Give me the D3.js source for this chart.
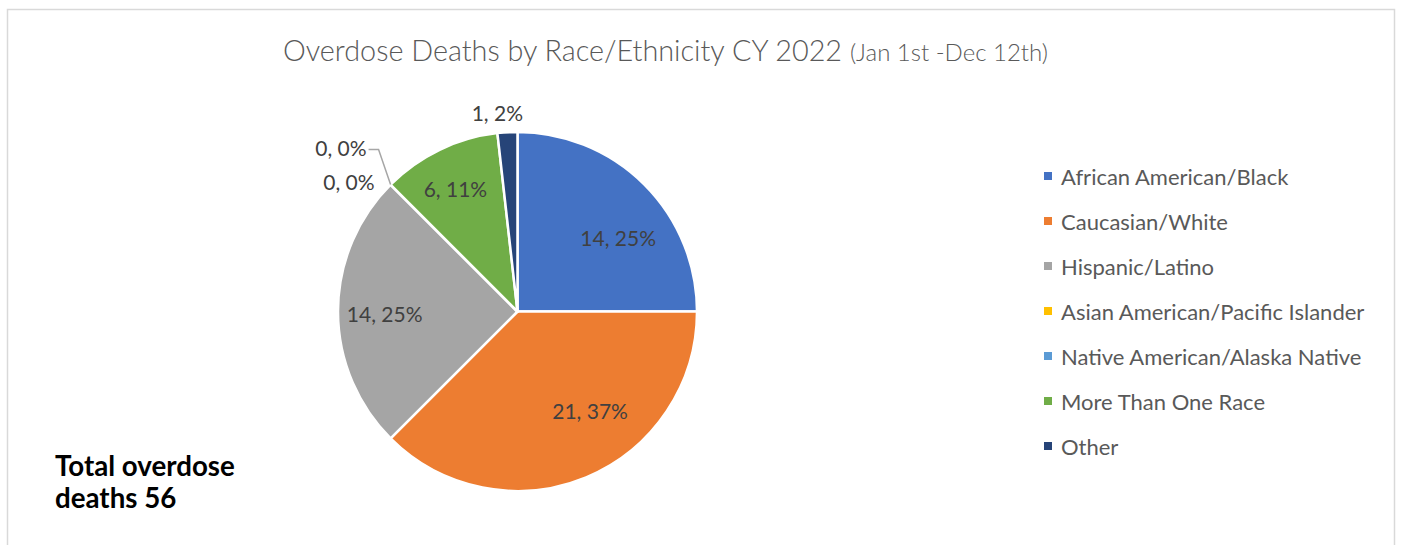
<!DOCTYPE html>
<html>
<head>
<meta charset="utf-8">
<script src="https://cdn.jsdelivr.net/npm/d3@7"></script>
<style>
  body { margin: 0; background: #fff; }
  svg { display: block; font-family: Lato, "Open Sans", sans-serif; }
</style>
</head>
<body>
<div id="chart"></div>
<script>
// Data
const categories = ["African American/Black", "Caucasian/White", "Hispanic/Latino",
    "Asian American/Pacific Islander", "Native American/Alaska Native",
    "More Than One Race", "Other"];
const deaths = [14, 21, 14, 0, 0, 6, 1];
const percents = [25, 37, 25, 0, 0, 11, 2];
const colors = ["#4472C4", "#ED7D31", "#A5A5A5", "#FFC000", "#5B9BD5", "#70AD47", "#264478"];

const width = 1401;
const height = 545;
const cx = 517.5, cy = 311.5, radius = 179.5;

const svg = d3.select("#chart").append("svg")
    .attr("width", width)
    .attr("height", height);

// chart frame
svg.append("rect")
    .attr("x", 7.5).attr("y", 9.5)
    .attr("width", 1387).attr("height", 560)
    .attr("fill", "#fff")
    .attr("stroke", "#d9d9d9")
    .attr("stroke-width", 1.5);

// Title
const title = svg.append("text")
    .attr("x", 283)
    .attr("y", 61)
    .attr("fill", "#595959")
    .style("font-size", "28.8px")
    .style("font-weight", 300);
title.append("tspan").text("Overdose Deaths by Race/Ethnicity CY 2022 ");
title.append("tspan").style("font-size", "24px").text("(Jan 1st -Dec 12th)");

// Pie
const pie = d3.pie().sort(null).value(d => d);
const arcs = pie(deaths);
const arc = d3.arc().innerRadius(0).outerRadius(radius);

const g = svg.append("g").attr("transform", `translate(${cx},${cy})`);

g.selectAll("path.slice")
    .data(arcs)
    .enter().append("path")
    .attr("class", "slice")
    .attr("d", arc)
    .attr("fill", (d, i) => colors[i])
    .attr("stroke", "#fff")
    .attr("stroke-width", 2.5)
    .attr("stroke-linejoin", "round");

// Data labels: radius ratio for the centroid, plus a small nudge
const labelPos = [
    { r: 0.62, nx: 22, ny: 5, anchor: "middle" },
    { r: 0.62, nx: 30, ny: -4, anchor: "middle" },
    { r: 0.74, nx: 0, ny: 1.5, anchor: "middle" },
    { r: 1.0, nx: -16, ny: -3, anchor: "end" },     // 0, 0% beside the edge
    { r: 1.0, nx: -24, ny: -37, anchor: "end" },    // 0, 0% with leader line
    { r: 0.72, nx: -6, ny: -7, anchor: "middle" },
    { r: 1.11, nx: -9, ny: 0, anchor: "middle" }
];

arcs.forEach((d, i) => {
    const o = labelPos[i];
    const a = d3.arc().innerRadius(radius * o.r).outerRadius(radius * o.r);
    const [x, y] = a.centroid(d);
    g.append("text")
        .attr("x", x + o.nx)
        .attr("y", y + o.ny)
        .attr("text-anchor", o.anchor)
        .attr("dominant-baseline", "central")
        .attr("fill", "#404040")
        .style("font-size", "21px")
        .text(`${deaths[i]}, ${percents[i]}%`);
});

// leader line for the 5th label
const edge = arcs[4].startAngle;
const ex = radius * Math.sin(edge), ey = -radius * Math.cos(edge);
g.append("path")
    .attr("d", `M${ex},${ey}L${ex - 12},${ey - 35}L${ex - 22},${ey - 35}`)
    .attr("fill", "none")
    .attr("stroke", "#a6a6a6")
    .attr("stroke-width", 1.5);

// Legend
const legend = svg.append("g").attr("transform", "translate(1044,176)");
categories.forEach((c, i) => {
    const row = legend.append("g").attr("transform", `translate(0,${i * 45})`);
    row.append("rect")
        .attr("x", 0).attr("y", -4)
        .attr("width", 8).attr("height", 8)
        .attr("fill", colors[i]);
    row.append("text")
        .attr("x", 17)
        .attr("y", 0)
        .attr("dominant-baseline", "central")
        .attr("fill", "#595959")
        .style("font-size", "22px")
        .text(c);
});

// Total note
const note = svg.append("text")
    .attr("fill", "#000")
    .style("font-size", "27.7px")
    .style("font-weight", 700);
note.append("tspan").attr("x", 55).attr("y", 476).text("Total overdose");
note.append("tspan").attr("x", 55).attr("y", 508).text("deaths " + d3.sum(deaths));
</script>
</body>
</html>
